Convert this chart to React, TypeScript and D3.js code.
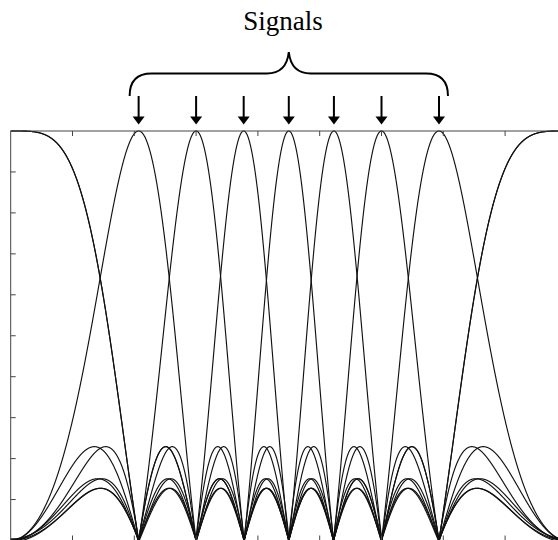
import { useEffect, useRef } from 'react';
import * as d3 from 'd3';

// signal centres, in x-tick units (0 and 9 are the two edges)
const signalPositions = [0, 2.07, 3.0, 3.77, 4.5, 5.23, 6.0, 6.93, 9];
// the seven signals marked with arrows
const arrowedSignals = signalPositions.slice(1, -1);
const xTicks = [1, 2, 3, 4, 5, 6, 7, 8];
const yTicks = [0.1, 0.2, 0.3, 0.4, 0.5, 0.6, 0.7, 0.8, 0.9];
const title = 'Signals';

const W = 558;
const H = 540;

function App() {
  const svgRef = useRef<SVGSVGElement>(null);

  useEffect(() => {
    const svg = d3.select(svgRef.current);
    svg.selectAll('*').remove();

    const xScale = d3.scaleLinear().domain([0, 9]).range([10.7, 566.9]);
    const yScale = d3.scaleLinear().domain([0, 1]).range([540.5, 131]);

    // kernels are periodic sincs in a cosine-warped coordinate
    const N = signalPositions.length - 1;
    const warp = (x: number) => (N / 2) * (1 - Math.cos((Math.PI * x) / 9));
    const kernel = (u: number) => {
      const phi = Math.PI * u;
      const s = Math.sin(phi / N);
      if (Math.abs(s) < 1e-9) return 1;
      return Math.abs(Math.sin(phi) / (N * s));
    };

    const xs = d3.range(0, 9.0005, 0.002);
    const line = d3
      .line<number[]>()
      .x(d => xScale(d[0]))
      .y(d => yScale(d[1]));

    const curves = svg.append('g');
    signalPositions.forEach(p => {
      const c = warp(p);
      curves
        .append('path')
        .attr('d', line(xs.map(x => [x, kernel(warp(x) - c)])))
        .attr('fill', 'none')
        .attr('stroke', '#111')
        .attr('stroke-width', 1.15);
    });

    // frame + inward ticks
    const axes = svg.append('g').attr('stroke', '#444').attr('stroke-width', 1);
    const top = yScale(1);
    const bottom = yScale(0);
    const left = xScale(0);
    axes.append('line').attr('x1', left).attr('x2', W).attr('y1', top).attr('y2', top);
    axes.append('line').attr('x1', left).attr('x2', left).attr('y1', top).attr('y2', H);
    axes.selectAll('.tt').data(xTicks).join('line')
      .attr('x1', d => xScale(d)).attr('x2', d => xScale(d))
      .attr('y1', top).attr('y2', top + 5);
    axes.selectAll('.bt').data(xTicks).join('line')
      .attr('x1', d => xScale(d)).attr('x2', d => xScale(d))
      .attr('y1', bottom).attr('y2', bottom - 5);
    axes.selectAll('.lt').data(yTicks).join('line')
      .attr('x1', left).attr('x2', left + 5)
      .attr('y1', d => yScale(d)).attr('y2', d => yScale(d));

    // arrows
    const arrows = svg.append('g').attr('fill', '#000').attr('stroke', '#000');
    arrowedSignals.forEach(p => {
      const cx = xScale(p);
      arrows.append('line')
        .attr('x1', cx).attr('x2', cx).attr('y1', 96).attr('y2', 118)
        .attr('stroke-width', 2);
      arrows.append('path')
        .attr('d', `M${cx - 6},116.5 L${cx + 6},116.5 L${cx},124.5 Z`)
        .attr('stroke', 'none');
    });

    // brace
    const bl = xScale(arrowedSignals[0]) - 9;
    const br = xScale(arrowedSignals[arrowedSignals.length - 1]) + 9;
    const mid = xScale(4.5);
    svg.append('path')
      .attr('d', `M${bl},96 C${bl},81 ${bl + 8},73.5 ${bl + 22},73.5 L${mid - 22},73.5 ` +
        `C${mid - 8},73.5 ${mid - 1.5},66 ${mid},52 C${mid + 1.5},66 ${mid + 8},73.5 ${mid + 22},73.5 ` +
        `L${br - 22},73.5 C${br - 8},73.5 ${br},81 ${br},96`)
      .attr('fill', 'none')
      .attr('stroke', '#000')
      .attr('stroke-width', 2);

    svg.append('text')
      .attr('x', 283)
      .attr('y', 30)
      .attr('text-anchor', 'middle')
      .attr('font-family', '"Liberation Serif", "Times New Roman", serif')
      .attr('font-size', 27)
      .attr('fill', '#000')
      .text(title);
  }, []);

  return (
    <svg
      ref={svgRef}
      width={W}
      height={H}
      style={{ position: 'absolute', left: 0, top: 0, background: '#fff' }}
    />
  );
}

export default App;
